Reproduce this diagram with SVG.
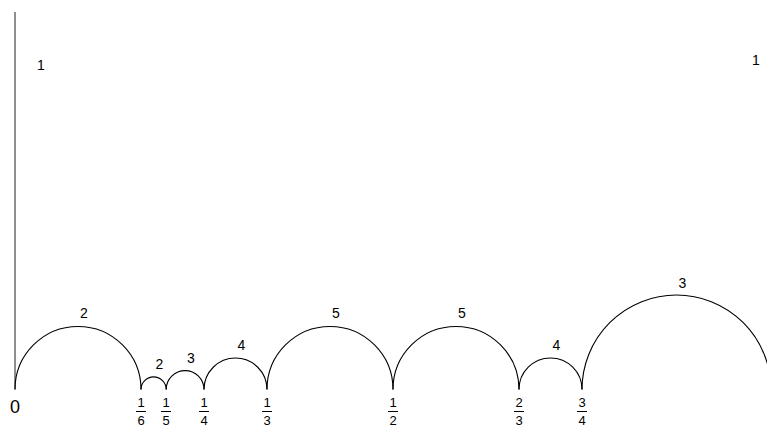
<svg xmlns="http://www.w3.org/2000/svg" width="767" height="425" viewBox="0 0 767 425">
<style>
.arc{fill:none;stroke:#000;stroke-width:1.1}
.t{font-family:"Liberation Sans",Arial,sans-serif;font-size:13px;fill:#000;text-anchor:middle}
.l{font-size:14px}
.bar{stroke:#000;stroke-width:1}
</style>
<rect width="767" height="425" fill="#fff"/>
<g id="axis">
<line x1="15" y1="12" x2="15" y2="389.5" stroke="#444" stroke-width="1.2"/>
<text class="t l" x="41" y="70">1</text>
<text class="t l" x="756" y="65">1</text>
<text class="t" x="15" y="412.5" style="font-size:18px">0</text>
</g>
<g id="connectors">
<path class="arc" d="M15,389.5 A63,63 0 0 1 141,389.5"/>
<path class="arc" d="M141,389.5 A12.6,12.6 0 0 1 166.2,389.5"/>
<path class="arc" d="M166.2,389.5 A18.9,18.9 0 0 1 204,389.5"/>
<path class="arc" d="M204,389.5 A31.5,31.5 0 0 1 267,389.5"/>
<path class="arc" d="M267,389.5 A63,63 0 0 1 393,389.5"/>
<path class="arc" d="M393,389.5 A63,63 0 0 1 519,389.5"/>
<path class="arc" d="M519,389.5 A31.5,31.5 0 0 1 582,389.5"/>
<path class="arc" d="M582,389.5 A94.5,94.5 0 0 1 771,389.5"/>
</g>
<g id="arc-labels">
<text class="t l" x="84" y="318">2</text>
<text class="t l" x="159.5" y="368.5">2</text>
<text class="t l" x="191" y="362.5">3</text>
<text class="t l" x="241.5" y="350">4</text>
<text class="t l" x="336" y="318">5</text>
<text class="t l" x="462" y="318">5</text>
<text class="t l" x="556.5" y="350">4</text>
<text class="t l" x="682.5" y="287.5">3</text>
</g>
<g id="frac-1-6"><text class="t" x="141" y="407">1</text><line class="bar" x1="136" y1="411.5" x2="146" y2="411.5"/><text class="t" x="141" y="424.5">6</text></g>
<g id="frac-1-5"><text class="t" x="166" y="407">1</text><line class="bar" x1="161" y1="411.5" x2="171" y2="411.5"/><text class="t" x="166" y="424.5">5</text></g>
<g id="frac-1-4"><text class="t" x="204" y="407">1</text><line class="bar" x1="199" y1="411.5" x2="209" y2="411.5"/><text class="t" x="204" y="424.5">4</text></g>
<g id="frac-1-3"><text class="t" x="267" y="407">1</text><line class="bar" x1="262" y1="411.5" x2="272" y2="411.5"/><text class="t" x="267" y="424.5">3</text></g>
<g id="frac-1-2"><text class="t" x="393" y="407">1</text><line class="bar" x1="388" y1="411.5" x2="398" y2="411.5"/><text class="t" x="393" y="424.5">2</text></g>
<g id="frac-2-3"><text class="t" x="519" y="407">2</text><line class="bar" x1="514" y1="411.5" x2="524" y2="411.5"/><text class="t" x="519" y="424.5">3</text></g>
<g id="frac-3-4"><text class="t" x="582" y="407">3</text><line class="bar" x1="577" y1="411.5" x2="587" y2="411.5"/><text class="t" x="582" y="424.5">4</text></g>
</svg>
